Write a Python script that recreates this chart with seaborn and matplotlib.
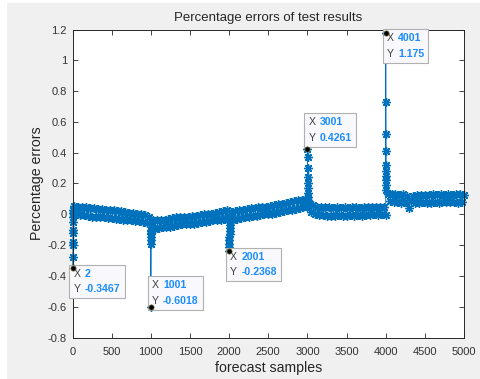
import numpy as np
import pandas as pd
import matplotlib
matplotlib.use("Agg")
import matplotlib.pyplot as plt
import seaborn as sns
from matplotlib.offsetbox import TextArea, HPacker, VPacker, AnnotationBbox
from matplotlib.patches import Rectangle

# ---------------- data ----------------
seg_base = [0, 1000, 2000, 3000, 4000]
tip_x = [2, 1001, 2001, 3001, 4001]

spike1 = [-0.3467, -0.28, -0.20, -0.18, -0.12, -0.10, -0.05, -0.02, 0.01, 0.03]
spike2 = [-0.6018, -0.19, -0.17, -0.15, -0.13, -0.12, -0.11, -0.10, -0.09, -0.085]
spike3 = [-0.2368, -0.21, -0.19, -0.17, -0.15, -0.13, -0.11, -0.09, -0.07, -0.05]
spike4 = [0.4261, 0.375, 0.30, 0.245, 0.20, 0.17, 0.14, 0.11, 0.09, 0.07]
spike5 = [1.175, 0.729, 0.523, 0.41, 0.32, 0.28, 0.25, 0.225, 0.19, 0.16]

band_step = 25
band1 = [0.055, 0.0, 0.05, -0.005, 0.05, -0.005, 0.045, -0.01, 0.04, -0.015,
         0.04, -0.015, 0.035, -0.02, 0.035, -0.02, 0.03, -0.025, 0.03, -0.025,
         0.025, -0.03, 0.02, -0.03, 0.02, -0.035, 0.015, -0.035, 0.01, -0.04,
         0.01, -0.045, 0.005, -0.045, 0.0, -0.05, -0.005, -0.055, -0.02, -0.07]
band2 = [-0.04, -0.095, -0.04, -0.09, -0.035, -0.085, -0.035, -0.085, -0.03, -0.08,
         -0.025, -0.075, -0.02, -0.07, -0.02, -0.065, -0.015, -0.065, -0.015, -0.06,
         -0.01, -0.06, -0.01, -0.055, -0.005, -0.05, 0.0, -0.05, 0.0, -0.045,
         0.005, -0.04, 0.01, -0.035, 0.015, -0.035, 0.02, -0.03, 0.025, -0.025]
band3 = [0.015, -0.035, 0.02, -0.03, 0.025, -0.025, 0.03, -0.02, 0.035, -0.015,
         0.04, -0.01, 0.04, -0.01, 0.045, -0.005, 0.05, 0.0, 0.05, 0.005,
         0.055, 0.005, 0.06, 0.01, 0.065, 0.015, 0.07, 0.02, 0.075, 0.025,
         0.08, 0.03, 0.085, 0.035, 0.09, 0.04, 0.095, 0.045, 0.1, 0.05]
band4 = [0.065, 0.015, 0.06, 0.005, 0.05, -0.005, 0.045, -0.005, 0.045, -0.01,
         0.045, -0.01, 0.04, -0.01, 0.045, -0.005, 0.04, -0.01, 0.045, -0.01,
         0.04, -0.005, 0.045, -0.01, 0.045, -0.005, 0.04, -0.01, 0.045, -0.005,
         0.05, -0.005, 0.045, 0.0, 0.05, -0.005, 0.05, 0.0, 0.045, -0.005]
band5 = [0.135, 0.085, 0.13, 0.08, 0.13, 0.08, 0.125, 0.075, 0.13, 0.08,
         0.12, 0.04, 0.09, 0.12, 0.075, 0.125, 0.075, 0.125, 0.08, 0.125,
         0.075, 0.125, 0.075, 0.13, 0.08, 0.125, 0.075, 0.13, 0.08, 0.125,
         0.08, 0.13, 0.08, 0.125, 0.08, 0.13, 0.075, 0.13, 0.08, 0.125]

spikes = [spike1, spike2, spike3, spike4, spike5]
bands = [band1, band2, band3, band4, band5]

y_ticks = [-0.8, -0.6, -0.4, -0.2, 0, 0.2, 0.4, 0.6, 0.8, 1, 1.2]
y_tick_labels = ["-0.8", "-0.6", "-0.4", "-0.2", "0", "0.2", "0.4", "0.6", "0.8", "1", "1.2"]
x_ticks = [0, 500, 1000, 1500, 2000, 2500, 3000, 3500, 4000, 4500, 5000]

# ---------------- build the series ----------------
xs, ys = [], []
for base, tx, sp, bd in zip(seg_base, tip_x, spikes, bands):
    xs += [tx + i for i in range(len(sp))]
    ys += sp
    xs += [base + band_step * (i + 1) for i in range(len(bd))]
    ys += bd
df = pd.DataFrame({"sample": xs, "err": ys})

# ---------------- style ----------------
sns.set_style("ticks")
plt.rcParams["font.family"] = ["Liberation Sans", "DejaVu Sans"]
plt.rcParams["xtick.direction"] = "in"
plt.rcParams["ytick.direction"] = "in"

W, H = 480, 379
fig = plt.figure(figsize=(W / 100, H / 100), dpi=100, facecolor="white")
fig.patches.append(Rectangle((7 / W, 0), (W - 7) / W, (H - 3) / H,
                             transform=fig.transFigure, facecolor="#f0f0f0",
                             edgecolor="none", zorder=-10))
ax = fig.add_axes([72.5 / W, 1 - 337.5 / H, (464 - 72.5) / W, (337.5 - 29.5) / H])
ax.set_facecolor("white")

blue = "#0072BD"
sns.lineplot(data=df, x="sample", y="err", ax=ax, color=blue, linewidth=0.6,
             marker=(8, 2, 0), markersize=6.2, markeredgewidth=1.0,
             markeredgecolor=blue, estimator=None, sort=True, clip_on=False)

ax.set_xlim(0, 5000)
ax.set_ylim(-0.8, 1.2)
ax.set_xticks(x_ticks)
ax.set_xticklabels([str(v) for v in x_ticks])
ax.set_yticks(y_ticks)
ax.set_yticklabels(y_tick_labels)
ax.tick_params(axis="both", which="both", direction="in", top=True, right=True,
               length=3.5, width=0.6, color="#262626", labelsize=8,
               labelcolor="#333333")
ax.tick_params(axis="x", pad=7)
ax.tick_params(axis="y", pad=4)
for s in ax.spines.values():
    s.set_visible(True)
    s.set_linewidth(0.7)
    s.set_color("#262626")

ax.set_title("Percentage errors of test results", fontsize=9.5, color="#262626", pad=6)
ax.set_xlabel("forecast samples", fontsize=10.2, color="#262626", labelpad=3)
ax.set_ylabel("Percentage errors", fontsize=10.2, color="#262626", labelpad=3)

# ---------------- data tips ----------------
tip_layout = [((1, -1), (0, 1)), ((1, 1), (0, 0)), ((1, -1), (0, 1)),
              ((1, 6), (0, 0)), ((1, 0), (0, 1))]
for i, (tx, sp) in enumerate(zip(tip_x, spikes)):
    ty = sp[0]
    ax.plot([tx], [ty], marker="o", markersize=3.8, color="black",
            markeredgecolor="#707040", markeredgewidth=0.5, zorder=8, clip_on=False)
    tstyle = dict(fontsize=7.6, color="#404040")
    vstyle = dict(fontsize=7.6, color="#1a8cff", fontweight="bold")
    row1 = HPacker(children=[TextArea("X", textprops=tstyle),
                             TextArea(f"{tx}", textprops=vstyle)], pad=0, sep=3)
    row2 = HPacker(children=[TextArea("Y", textprops=tstyle),
                             TextArea(f"{ty:g}", textprops=vstyle)], pad=0, sep=3)
    box = VPacker(children=[row1, row2], pad=0, sep=4, align="left")
    (dx, dy), align = tip_layout[i]
    ab = AnnotationBbox(box, (tx, ty), xybox=(dx, dy), xycoords="data",
                        boxcoords="offset pixels", box_alignment=align,
                        frameon=True, pad=0.75,
                        bboxprops=dict(facecolor="#f9f9fd", edgecolor="#b0b0b0",
                                       linewidth=0.8, boxstyle="square"))
    ab.set_zorder(6)
    ax.add_artist(ab)

fig.savefig("out.png", dpi=100, facecolor=fig.get_facecolor())
